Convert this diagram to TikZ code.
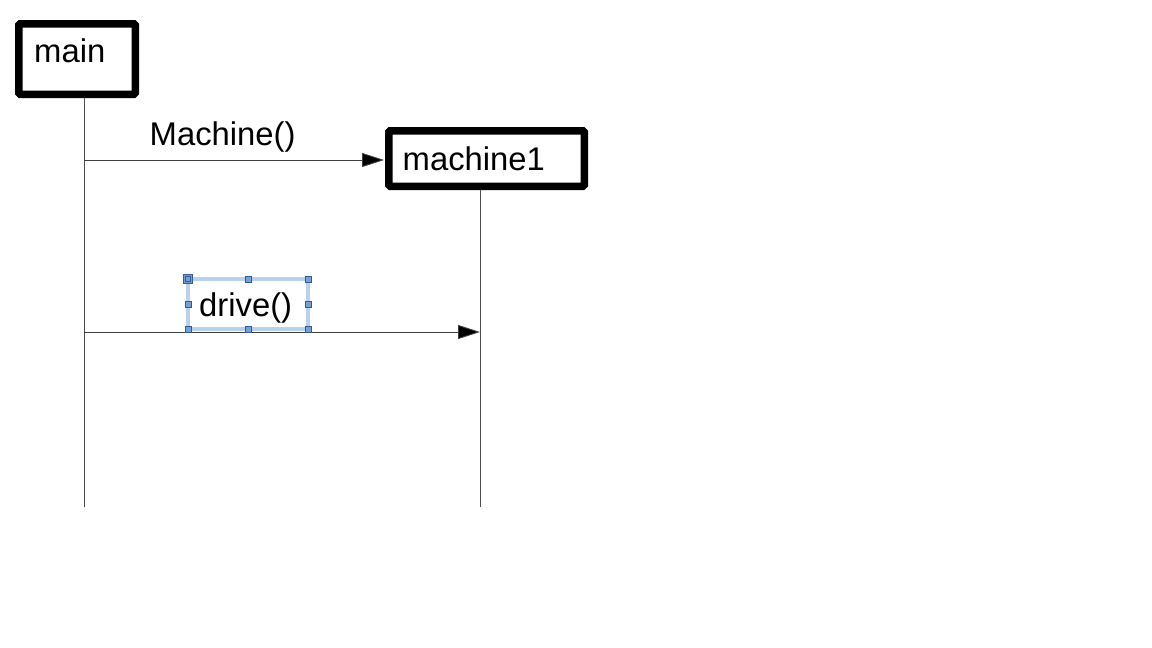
\documentclass[tikz,border=0pt]{standalone}
\usepackage{fontspec}
\setmainfont{Liberation Sans}
\usetikzlibrary{arrows.meta}
\definecolor{selframe}{RGB}{184,210,238}
\definecolor{handlefill}{RGB}{120,160,210}
\definecolor{handleline}{RGB}{52,90,150}
\begin{document}
\begin{tikzpicture}[x=1pt,y=-1pt,
  objbox/.style={draw=black, line width=7.5pt, rounded corners=1.5pt, fill=white, inner sep=0pt},
  lbl/.style={anchor=base west, inner sep=0pt, font=\fontsize{32.8}{38}\selectfont},
  lifeline/.style={draw=black!70, line width=0.9pt},
  msg/.style={draw=black!75, line width=0.9pt, -{Triangle[length=22pt,width=14pt,fill=black]}},
  handle/.style={draw=handleline, fill=handlefill, line width=0.6pt, minimum size=6pt, inner sep=0pt}]
\useasboundingbox (0,0) rectangle (1152,648);

% object boxes
\node[objbox, minimum width=116.5pt, minimum height=70.5pt] (main) at (77,59) {};
\node[objbox, minimum width=195.5pt, minimum height=55.5pt] (m1) at (486.5,158.5) {};
\node[lbl] (maintxt) at (34,62) {main};
\node[lbl] (m1txt) at (402.5,170) {machine1};

% lifelines
\coordinate (maintop) at (84,98);
\coordinate (mainend) at (84,507);
\coordinate (m1top) at (480,190);
\coordinate (m1end) at (480,507);
\draw[lifeline] (maintop) -- (mainend);
\draw[lifeline] (m1top) -- (m1end);

% message: constructor call
\coordinate (c1) at (84,160);
\coordinate (c1end) at (384,160);
\draw[msg] (c1) -- (c1end);
\node[lbl] (ctor) at (149.5,145.5) {Machine()};

% message: drive call
\coordinate (c2) at (84,332);
\coordinate (c2end) at (480,332);
\draw[msg] (c2) -- (c2end);

% selected label frame with handles
\draw[selframe, line width=4.5pt] (188,279) rectangle (308,329);
\node[lbl] (drv) at (199,316) {drive()};
\foreach \hx/\hy in {248/279, 308/279, 188/304, 308/304, 188/329, 248/329, 308/329}
  \node[handle] at (\hx,\hy) {};
\node[handle, minimum size=9pt] (corner) at (188,279) {};
\node[draw=handleline, line width=0.6pt, minimum size=5pt, inner sep=0pt] at (corner) {};
\end{tikzpicture}
\end{document}
